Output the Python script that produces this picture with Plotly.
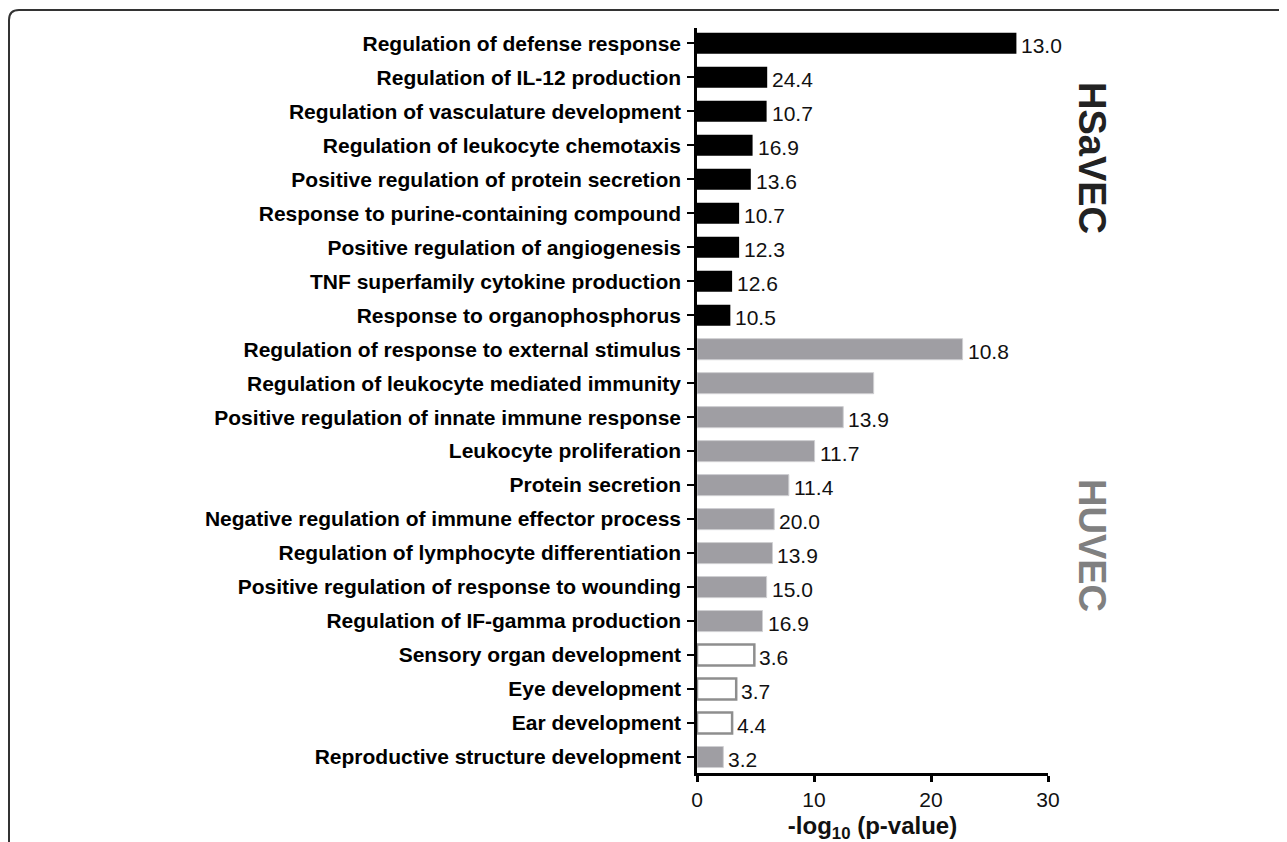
import plotly.graph_objects as go

categories = [
    "Regulation of defense response",
    "Regulation of IL-12 production",
    "Regulation of vasculature development",
    "Regulation of leukocyte chemotaxis",
    "Positive regulation of protein secretion",
    "Response to purine-containing compound",
    "Positive regulation of angiogenesis",
    "TNF superfamily cytokine production",
    "Response to organophosphorus",
    "Regulation of response to external stimulus",
    "Regulation of leukocyte mediated immunity",
    "Positive regulation of innate immune response",
    "Leukocyte proliferation",
    "Protein secretion",
    "Negative regulation of immune effector process",
    "Regulation of lymphocyte differentiation",
    "Positive regulation of response to wounding",
    "Regulation of IF-gamma production",
    "Sensory organ development",
    "Eye development",
    "Ear development",
    "Reproductive structure development",
]
neg_log10_p = [27.3, 6.0, 5.95, 4.75, 4.6, 3.6, 3.6, 3.0, 2.85,
               22.7, 15.1, 12.5, 10.05, 7.85, 6.6, 6.45, 5.95, 5.6,
               4.9, 3.35, 3.0, 2.25]
bar_labels = ["13.0", "24.4", "10.7", "16.9", "13.6", "10.7", "12.3", "12.6", "10.5",
              "10.8", "", "13.9", "11.7", "11.4", "20.0", "13.9", "15.0", "16.9",
              "3.6", "3.7", "4.4", "3.2"]
groups = ["HSaVEC"] * 9 + ["HUVEC"] * 9 + ["open"] * 3 + ["HUVEC"]
x_ticks = [0, 10, 20, 30]

style = {
    "HSaVEC": dict(fill="#000000", line="#000000", lw=0),
    "HUVEC": dict(fill="#9f9ea3", line="#cfcfd2", lw=1),
    "open": dict(fill="#ffffff", line="#8e8e8e", lw=2.5),
}

FONT = "Liberation Sans, Arial, sans-serif"

fig = go.Figure()
fig.add_trace(go.Bar(
    x=neg_log10_p,
    y=categories,
    orientation="h",
    width=0.62,
    marker=dict(
        color=[style[g]["fill"] for g in groups],
        line=dict(color=[style[g]["line"] for g in groups],
                  width=[style[g]["lw"] for g in groups]),
    ),
    showlegend=False,
    hoverinfo="skip",
))

annotations = []
for cat, v, lab in zip(categories, neg_log10_p, bar_labels):
    if lab:
        annotations.append(dict(
            x=v, y=cat, xref="x", yref="y", text=lab, showarrow=False,
            xanchor="left", yanchor="middle", xshift=3, yshift=-2,
            font=dict(family=FONT, size=21, color="#111111"),
        ))

# plot-area placement (figure pixel coords; page adds an 8px body margin)
L, R, T, B = 689, 1040, 20, 765
W, H = R - L, B - T
def px(x):
    return (x - L) / W
def py(y):
    return (B - y) / H

# group labels (rotated)
annotations.append(dict(
    x=px(1084), y=py(150), xref="paper", yref="paper", text="<b>HSaVEC</b>",
    textangle=90, showarrow=False, xanchor="center", yanchor="middle",
    font=dict(family=FONT, size=38, color="#222222"),
))
annotations.append(dict(
    x=px(1084), y=py(537), xref="paper", yref="paper", text="<b>HUVEC</b>",
    textangle=90, showarrow=False, xanchor="center", yanchor="middle",
    font=dict(family=FONT, size=38, color="#808080"),
))

# frame with rounded top-left corner
r = 10
path = (f"M {px(1)},{py(860)} L {px(1)},{py(2 + r)} "
        f"Q {px(1)},{py(2)} {px(1 + r)},{py(2)} L {px(1300)},{py(2)}")

fig.update_layout(
    width=1287, height=842,
    margin=dict(l=L, r=1287 - R, t=T, b=842 - B),
    plot_bgcolor="white", paper_bgcolor="white",
    font=dict(family=FONT, color="#000000"),
    annotations=annotations,
    shapes=[dict(type="path", path=path, xref="paper", yref="paper",
                 line=dict(color="#333333", width=2), layer="above")],
    xaxis=dict(
        range=[0, 30], tickvals=x_ticks, ticks="outside", ticklen=6, tickwidth=2.5,
        tickcolor="black", showline=True, linecolor="black", linewidth=2.5,
        showgrid=False, zeroline=False, ticklabelstandoff=0,
        tickfont=dict(family=FONT, size=21, color="#111111"),
        title=dict(text="<b>-log<sub>10</sub> (p-value)</b>", standoff=8,
                   font=dict(family=FONT, size=24, color="#111111")),
    ),
    yaxis=dict(
        type="category", categoryorder="array", categoryarray=categories,
        range=[21.47, -0.45], ticks="outside", ticklen=7, tickwidth=2,
        tickcolor="black", showline=True, linecolor="black", linewidth=2.5,
        showgrid=False, zeroline=False, ticklabelstandoff=2,
        tickfont=dict(family=FONT, size=21, color="#000000", weight="bold"),
    ),
)

fig.write_html("out.html")
